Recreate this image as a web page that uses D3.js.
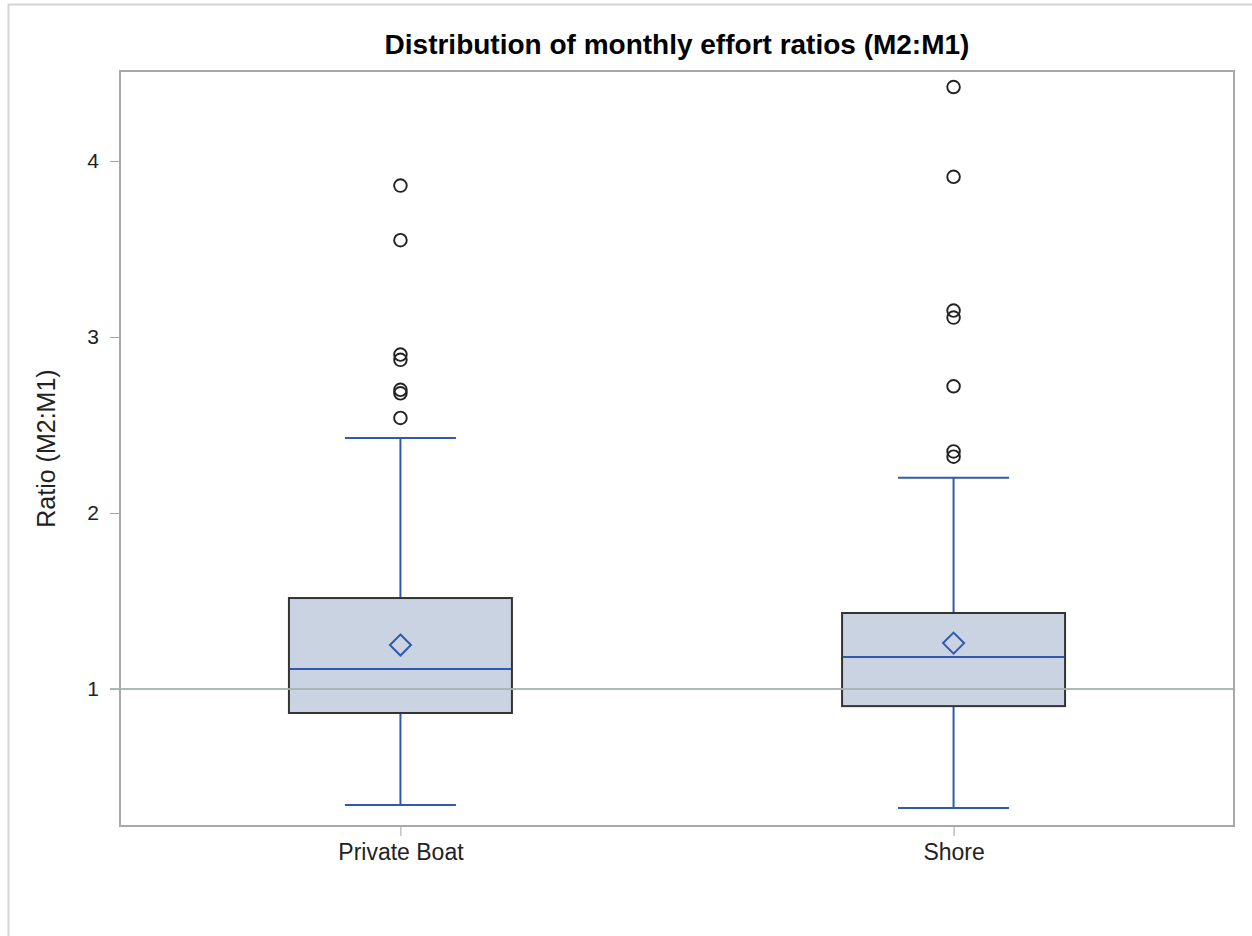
<!DOCTYPE html>
<html>
<head>
<meta charset="utf-8">
<script src="https://cdn.jsdelivr.net/npm/d3@7"></script>
<style>
  body { margin: 0; background: #fff; }
  svg { display: block; font-family: "Liberation Sans", Arial, sans-serif; }
</style>
</head>
<body>
<svg width="1252" height="936"></svg>
<script>
// categories and box statistics
const categories = ['Private Boat', 'Shore'];
const q1 = [0.864, 0.903];
const median = [1.114, 1.182];
const q3 = [1.517, 1.432];
const mean = [1.25, 1.261];
const whiskerLow = [0.341, 0.324];
const whiskerHigh = [2.426, 2.20];
const outliers = [
    [3.86, 3.55, 2.90, 2.87, 2.70, 2.68, 2.54],
    [4.42, 3.91, 3.15, 3.11, 2.72, 2.35, 2.32]
];
const yTicks = [1, 2, 3, 4];
const refValue = 1;

const svg = d3.select('svg');
const plotLeft = 120, plotRight = 1234, plotTop = 71, plotBottom = 826;

const x = d3.scalePoint()
    .domain(categories)
    .range([plotLeft, plotRight])
    .padding(0.507);

const y = d3.scaleLinear()
    .domain([0.222, 4.511])
    .range([plotBottom, plotTop]);

const boxW = 223;
const capW = 111;
const blue = '#2f5aae';

// outer frame
svg.append('rect')
    .attr('x', 8.5).attr('y', 4.5)
    .attr('width', 1260).attr('height', 960)
    .attr('fill', 'none')
    .attr('stroke', '#d4d4d4')
    .attr('stroke-width', 2);

// title
svg.append('text')
    .attr('x', (plotLeft + plotRight) / 2)
    .attr('y', 54)
    .attr('text-anchor', 'middle')
    .attr('font-size', 28)
    .attr('font-weight', 'bold')
    .attr('fill', '#000')
    .text('Distribution of monthly effort ratios (M2:M1)');

// y axis
const yAxis = svg.append('g')
    .attr('transform', `translate(${plotLeft},0)`)
    .call(d3.axisLeft(y).tickValues(yTicks).tickSize(10).tickPadding(11).tickFormat(d3.format('d')));
yAxis.select('.domain').remove();
yAxis.selectAll('.tick line').attr('stroke', '#a0a0a0');
yAxis.selectAll('.tick text').attr('font-size', 21).attr('fill', '#222').attr('font-family', '"Liberation Sans", Arial, sans-serif');

// x axis
const xAxis = svg.append('g')
    .attr('transform', `translate(0,${plotBottom})`)
    .call(d3.axisBottom(x).tickSize(10).tickPadding(8));
xAxis.select('.domain').remove();
xAxis.selectAll('.tick line').attr('stroke', '#a0a0a0');
xAxis.selectAll('.tick text').attr('font-size', 23).attr('fill', '#222').attr('font-family', '"Liberation Sans", Arial, sans-serif');

// y label
svg.append('text')
    .attr('transform', `translate(55,${(plotTop + plotBottom) / 2}) rotate(-90)`)
    .attr('text-anchor', 'middle')
    .attr('font-size', 25)
    .attr('fill', '#222')
    .text('Ratio (M2:M1)');

// boxes
const data = categories.map((c, i) => ({
    cat: c, q1: q1[i], med: median[i], q3: q3[i], mean: mean[i],
    lo: whiskerLow[i], hi: whiskerHigh[i], out: outliers[i]
}));

const g = svg.append('g');

// whiskers
g.selectAll('line.whisker-hi')
    .data(data).enter().append('line')
    .attr('x1', d => x(d.cat)).attr('x2', d => x(d.cat))
    .attr('y1', d => y(d.q3)).attr('y2', d => y(d.hi))
    .attr('stroke', blue).attr('stroke-width', 2);
g.selectAll('line.whisker-lo')
    .data(data).enter().append('line')
    .attr('x1', d => x(d.cat)).attr('x2', d => x(d.cat))
    .attr('y1', d => y(d.q1)).attr('y2', d => y(d.lo))
    .attr('stroke', blue).attr('stroke-width', 2);
['hi', 'lo'].forEach(k => {
    g.selectAll('line.cap-' + k)
        .data(data).enter().append('line')
        .attr('x1', d => x(d.cat) - capW / 2).attr('x2', d => x(d.cat) + capW / 2)
        .attr('y1', d => y(d[k])).attr('y2', d => y(d[k]))
        .attr('stroke', blue).attr('stroke-width', 2);
});

g.selectAll('rect.box')
    .data(data).enter().append('rect')
    .attr('x', d => x(d.cat) - boxW / 2)
    .attr('width', boxW)
    .attr('y', d => y(d.q3))
    .attr('height', d => y(d.q1) - y(d.q3))
    .attr('fill', '#c9d3e1')
    .attr('stroke', '#333')
    .attr('stroke-width', 2);

// reference line
svg.append('line')
    .attr('x1', plotLeft - 10).attr('x2', plotRight)
    .attr('y1', y(refValue)).attr('y2', y(refValue))
    .attr('stroke', '#a7b2b2')
    .attr('stroke-width', 2)
    .attr('opacity', 0.9);

// median
g.selectAll('line.median')
    .data(data).enter().append('line')
    .attr('x1', d => x(d.cat) - boxW / 2 + 1).attr('x2', d => x(d.cat) + boxW / 2 - 1)
    .attr('y1', d => y(d.med)).attr('y2', d => y(d.med))
    .attr('stroke', blue).attr('stroke-width', 2);

// mean diamond
g.selectAll('path.mean')
    .data(data).enter().append('path')
    .attr('d', d => {
        const cx = x(d.cat), cy = y(d.mean), r = 10.5;
        return `M${cx},${cy - r}L${cx + r},${cy}L${cx},${cy + r}L${cx - r},${cy}Z`;
    })
    .attr('fill', 'none')
    .attr('stroke', blue)
    .attr('stroke-width', 2);

// outliers
data.forEach(d => {
    g.selectAll(null)
        .data(d.out).enter().append('circle')
        .attr('cx', x(d.cat))
        .attr('cy', v => y(v))
        .attr('r', 6.3)
        .attr('fill', 'none')
        .attr('stroke', '#222')
        .attr('stroke-width', 1.9);
});

// plot frame
svg.append('rect')
    .attr('x', plotLeft).attr('y', plotTop)
    .attr('width', plotRight - plotLeft).attr('height', plotBottom - plotTop)
    .attr('fill', 'none')
    .attr('stroke', '#a8a8a8')
    .attr('stroke-width', 2);
</script>
</body>
</html>
